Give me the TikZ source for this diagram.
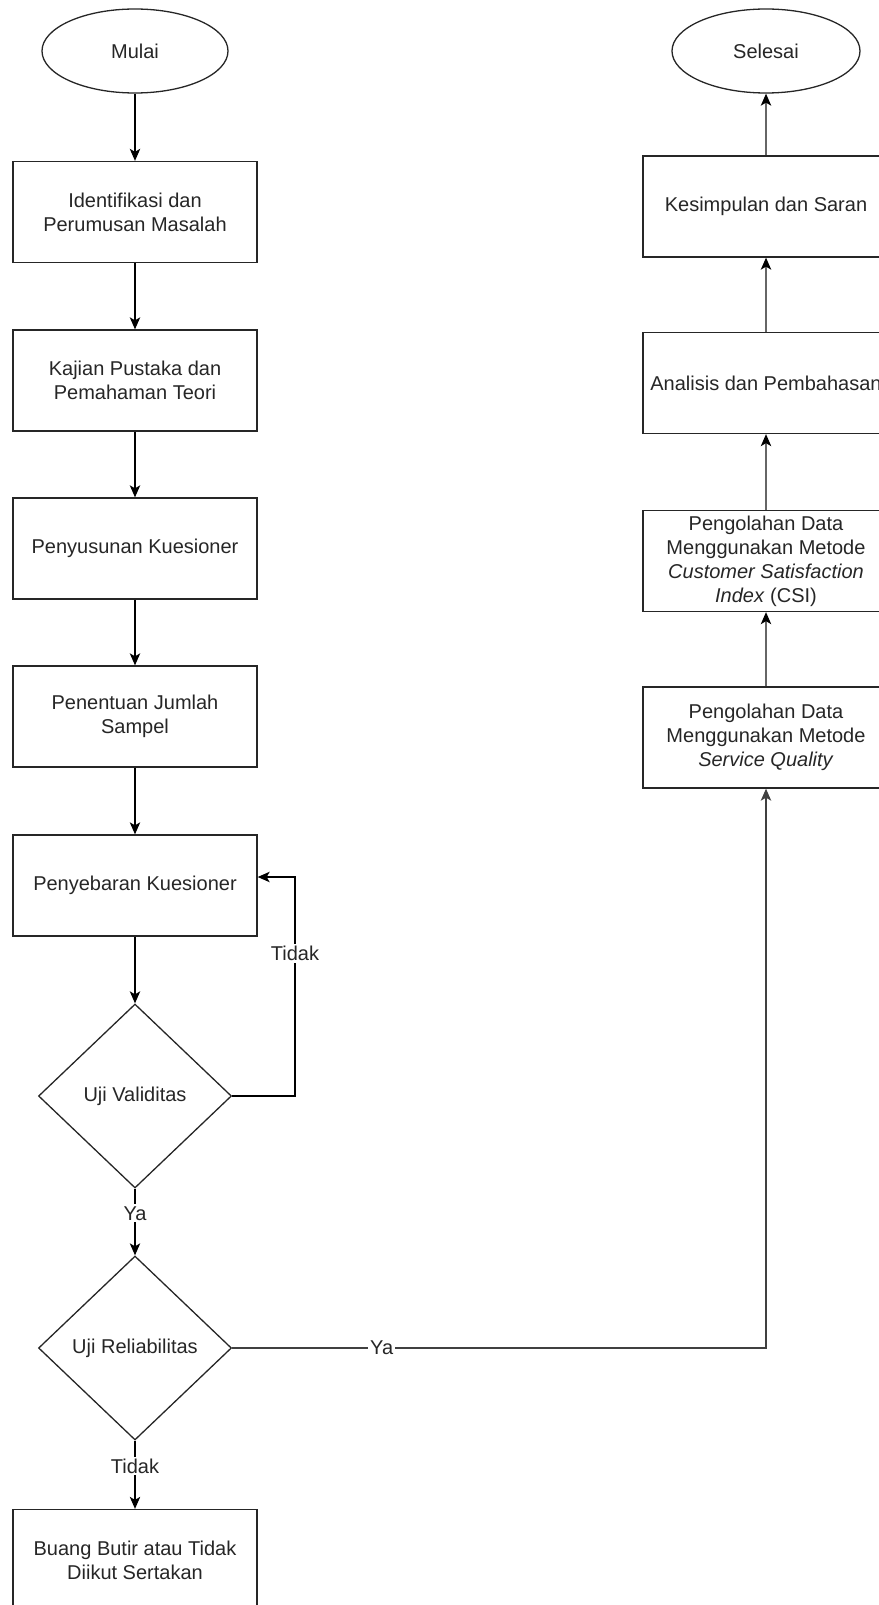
\documentclass[tikz,border=0pt]{standalone}
\usepackage{fontspec}
\setmainfont{Liberation Sans}
\usetikzlibrary{shapes.geometric,arrows.meta}
\begin{document}
\begin{tikzpicture}[x=0.5pt,y=-0.5pt,>={Stealth[length=6pt,width=5.2pt,inset=1.5pt]},
  line width=0.65pt,font=\fontsize{10}{12}\selectfont,
  proses/.style={draw=black!85,rectangle,minimum width=122pt,minimum height=50.5pt,
    align=center,inner sep=0pt,text=black!85},
  prosesb/.style={proses,minimum width=123pt},
  terminal/.style={draw=black!85,ellipse,minimum width=93pt,minimum height=42pt,
    inner sep=0pt,text=black!85},
  keputusan/.style={draw=black!85,diamond,minimum width=96.5pt,minimum height=92pt,
    inner sep=0pt,text=black!85},
  lbl/.style={fill=white,inner sep=1pt,text=black!85},
  alur/.style={->,black},
  alurb/.style={-{Stealth[length=6pt,width=5.2pt,inset=1.5pt,black]},black!60}]
  \useasboundingbox (0,0) rectangle (878,1605);

  % kolom kiri
  \node[terminal] (mulai) at (135,51) {Mulai};
  \node[proses] (identifikasi) at (135,212) {Identifikasi dan\\Perumusan Masalah};
  \node[proses] (kajian) at (135,380.5) {Kajian Pustaka dan\\Pemahaman Teori};
  \node[proses] (penyusunan) at (135,548.5) {Penyusunan Kuesioner};
  \node[proses] (penentuan) at (135,716.5) {Penentuan Jumlah\\Sampel};
  \node[proses] (penyebaran) at (135,885.5) {Penyebaran Kuesioner};
  \node[keputusan] (validitas) at (135,1096) {Uji Validitas};
  \node[keputusan] (reliabilitas) at (135,1348) {Uji Reliabilitas};
  \node[proses] (buang) at (135,1560) {Buang Butir atau Tidak\\Diikut Sertakan};

  % kolom kanan
  \node[terminal,minimum width=94pt] (selesai) at (766,51) {Selesai};
  \node[prosesb] (kesimpulan) at (766,206.5) {Kesimpulan dan Saran};
  \node[prosesb] (analisis) at (766,383) {Analisis dan Pembahasan};
  \node[prosesb] (csi) at (766,561) {Pengolahan Data\\Menggunakan Metode\\
    \textit{Customer Satisfaction}\\\textit{Index} (CSI)};
  \node[prosesb] (servqual) at (766,737.5) {Pengolahan Data\\Menggunakan Metode\\
    \textit{Service Quality}};

  \coordinate (belok) at (295,877);

  % panah kolom kiri
  \draw[alur] (mulai) -- (identifikasi);
  \draw[alur] (identifikasi) -- (kajian);
  \draw[alur] (kajian) -- (penyusunan);
  \draw[alur] (penyusunan) -- (penentuan);
  \draw[alur] (penentuan) -- (penyebaran);
  \draw[alur] (penyebaran) -- (validitas);
  \draw[alur] (validitas.east) -- (validitas.east -| belok)
    -- node[lbl,pos=0.65] {Tidak} (belok) -- (belok -| penyebaran.east);
  \draw[alur] (validitas) -- node[lbl,pos=0.37] {Ya} (reliabilitas);
  \draw[alur] (reliabilitas) -- node[lbl,pos=0.37] {Tidak} (buang);

  % panah ke kolom kanan
  \draw[->,black!75] (reliabilitas.east) -| node[lbl,pos=0.14] {Ya} (servqual.south);
  \draw[alurb] (servqual) -- (csi);
  \draw[alurb] (csi) -- (analisis);
  \draw[alurb] (analisis) -- (kesimpulan);
  \draw[alurb] (kesimpulan) -- (selesai);
\end{tikzpicture}
\end{document}
